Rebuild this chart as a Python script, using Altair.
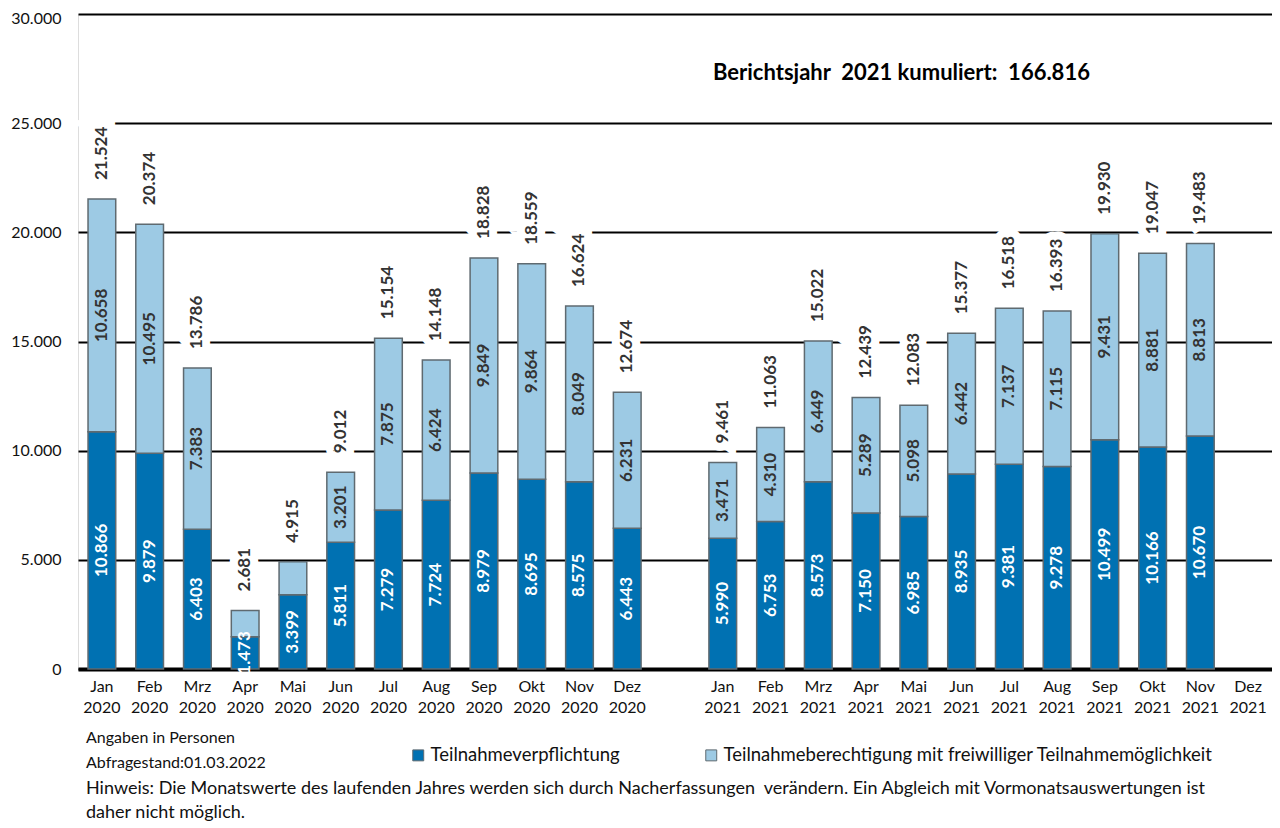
import altair as alt
import pandas as pd

months = ["Jan", "Feb", "Mrz", "Apr", "Mai", "Jun", "Jul", "Aug", "Sep", "Okt", "Nov", "Dez"]
pflicht_2020 = [10866, 9879, 6403, 1473, 3399, 5811, 7279, 7724, 8979, 8695, 8575, 6443]
berecht_2020 = [10658, 10495, 7383, 1208, 1516, 3201, 7875, 6424, 9849, 9864, 8049, 6231]
pflicht_2021 = [5990, 6753, 8573, 7150, 6985, 8935, 9381, 9278, 10499, 10166, 10670]
berecht_2021 = [3471, 4310, 6449, 5289, 5098, 6442, 7137, 7115, 9431, 8881, 8813]
series = ["Teilnahmeverpflichtung", "Teilnahmeberechtigung mit freiwilliger Teilnahmemöglichkeit"]
colors = ["#0071b2", "#9dcae4"]
title_text = "Berichtsjahr\u00a0 2021 kumuliert:\u00a0 166.816"

domain = [f"{m} 2020" for m in months] + ["_gap_"] + [f"{m} 2021" for m in months]

def de(n):
    return f"{n:,}".replace(",", ".")

rows = []
totals = []
for year, pf, be in [(2020, pflicht_2020, berecht_2020), (2021, pflicht_2021, berecht_2021)]:
    for i, (p, b) in enumerate(zip(pf, be)):
        cat = f"{months[i]} {year}"
        rows.append(dict(cat=cat, series=series[0], ord=0, value=p, mid=p / 2,
                         label=de(p), show=True))
        rows.append(dict(cat=cat, series=series[1], ord=1, value=b, mid=p + b / 2,
                         label=de(b), show=b >= 2000))
        totals.append(dict(cat=cat, total=p + b, label=de(p + b)))
df = pd.DataFrame(rows)
tdf = pd.DataFrame(totals)

FONT = "Lato"
LBL = 17
xscale = alt.Scale(domain=domain, paddingInner=0.42, paddingOuter=0.21)
yscale = alt.Scale(domain=[0, 30000])

x_enc = alt.X("cat:N", scale=xscale, sort=domain, title=None,
              axis=alt.Axis(labelAngle=0, labelFont=FONT, labelFontSize=16, labelColor="#111",
                            labelExpr="datum.label == '_gap_' ? '' : split(datum.label, ' ')",
                            labelLineHeight=21, labelPadding=9, ticks=False,
                            domainColor="black", domainWidth=4, labelBaseline="top"))

bars = alt.Chart(df).mark_bar(stroke="#5f6a70", strokeWidth=1.5).encode(
    x=x_enc,
    y=alt.Y("value:Q", stack="zero", scale=yscale, title=None,
            axis=alt.Axis(values=[0, 5000, 10000, 15000, 20000, 25000, 30000],
                          labelExpr="replace(format(datum.value, ','), ',', '.')",
                          labelFont=FONT, labelFontSize=16, labelColor="#111",
                          labelOffset={"condition": {"test": "datum.value == 30000", "value": 4}, "value": 0},
                          labelPadding=17, ticks=False, domain=False,
                          gridColor="black", gridWidth=1.8)),
    color=alt.Color("series:N", scale=alt.Scale(domain=series, range=colors),
                    legend=alt.Legend(orient="none", legendX=331, legendY=732,
                                      direction="horizontal", title=None,
                                      symbolType="square", symbolSize=120,
                                      symbolStrokeColor="#5f6a70", symbolStrokeWidth=1,
                                      labelFont=FONT, labelFontSize=18.5, labelColor="#111",
                                      labelOffset=3,
                                      columnPadding=82, labelLimit=700, symbolOffset=0)),
    order=alt.Order("ord:Q"),
)

def seg_labels(sub, color):
    return alt.Chart(sub).mark_text(
        angle=270, font=FONT, fontSize=LBL, fontWeight="bold", color=color,
        align="center", baseline="middle").encode(
        x=alt.X("cat:N", scale=xscale, sort=domain),
        y=alt.Y("mid:Q", scale=yscale),
        text="label:N")

dark_lbl = seg_labels(df[df.ord == 0], "white")
light_lbl = seg_labels(df[(df.ord == 1) & (df.show)], "#333333")

tot_bg = alt.Chart(tdf).mark_text(
    angle=270, font=FONT, fontSize=LBL, fontWeight="bold", color="white",
    stroke="white", strokeWidth=16, strokeJoin="miter", align="left", baseline="middle", dx=19).encode(
    x=alt.X("cat:N", scale=xscale, sort=domain),
    y=alt.Y("total:Q", scale=yscale),
    text="label:N")

tot_lbl = alt.Chart(tdf).mark_text(
    angle=270, font=FONT, fontSize=LBL, fontWeight="bold", color="#333333",
    align="left", baseline="middle", dx=19).encode(
    x=alt.X("cat:N", scale=xscale, sort=domain),
    y=alt.Y("total:Q", scale=yscale),
    text="label:N")

notes = pd.DataFrame({
    "text": [title_text, "Angaben in Personen", "Abfragestand:01.03.2022",
             "Hinweis: Die Monatswerte des laufenden Jahres werden sich durch Nacherfassungen\u00a0 verändern. Ein Abgleich mit Vormonatsauswertungen ist",
             "daher nicht möglich."],
})

title_mark = alt.Chart(notes.iloc[[0]]).mark_text(
    font=FONT, fontSize=22, fontWeight="bold", color="black",
    align="left", baseline="middle").encode(
    x=alt.value(635), y=alt.value(59), text="text:N")

def note(i, px, py, size):
    return alt.Chart(notes.iloc[[i]]).mark_text(
        font=FONT, fontSize=size, color="#111", align="left", baseline="middle").encode(
        x=alt.value(px), y=alt.value(py), text="text:N")

chart = alt.layer(
    bars, dark_lbl, light_lbl, tot_bg, tot_lbl, title_mark,
    note(1, 8, 724, 16), note(2, 8, 749, 16), note(3, 8, 775, 18), note(4, 8, 799, 18)
).properties(
    width=1194, height=655,
    autosize=alt.AutoSizeParams(type="none"),
    padding={"left": 70, "top": 6, "right": 0, "bottom": 154},
).configure_view(stroke=None).configure(background="white")

chart.save("out.html", embed_options={"renderer": "svg", "actions": False})
